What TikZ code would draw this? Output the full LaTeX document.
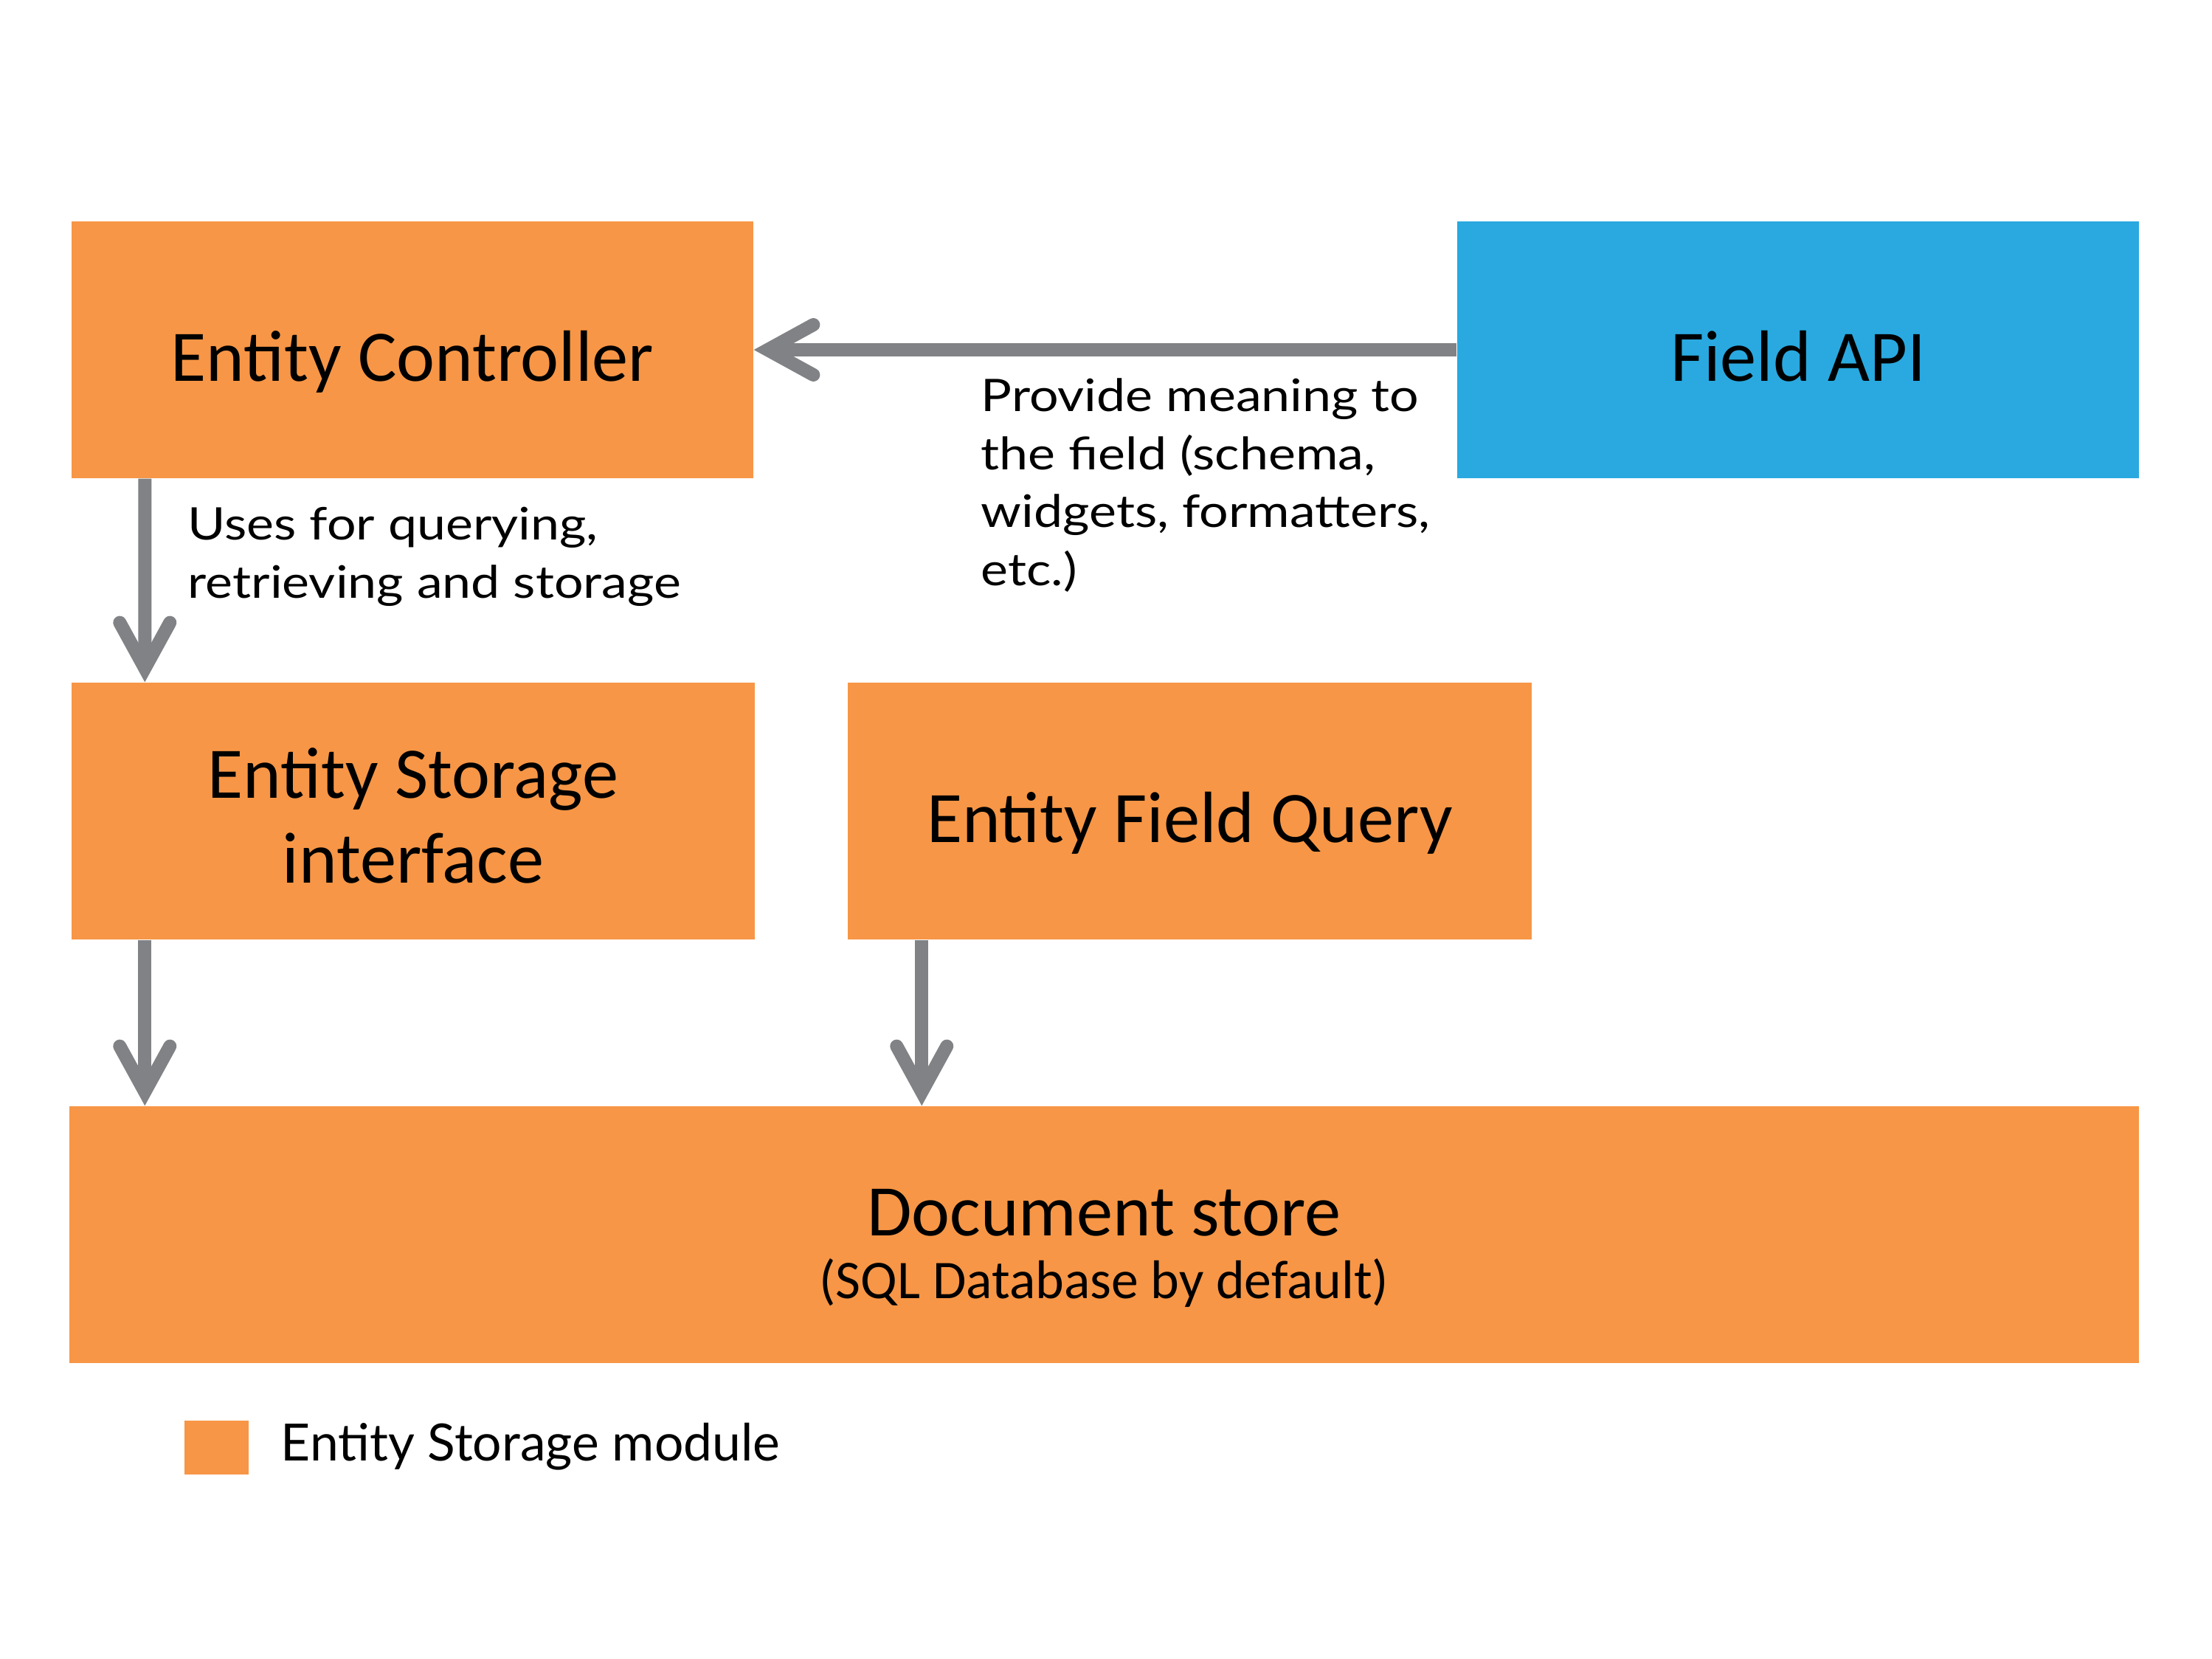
\documentclass[tikz,border=0pt]{standalone}
\usepackage{fontspec}
\setmainfont{Carlito}
\newfontfamily\notefont[FakeStretch=1.15]{Lato}
\newfontfamily\legendfont{Lato}
\usetikzlibrary{arrows.meta,calc}
\definecolor{boxorange}{HTML}{F79646}
\definecolor{boxblue}{HTML}{29A9E0}
\definecolor{arrowgray}{HTML}{808285}
\tikzset{
  block/.style={fill=boxorange, draw=none, inner sep=0pt, minimum height=3.48cm, align=center,
    text depth=0pt, text height=0.84cm, font=\fontsize{28}{32.6}\selectfont},
  apiblock/.style={block, fill=boxblue},
  flow/.style={draw=arrowgray, line width=0.18cm,
    -{Straight Barb[length=0.62cm, width=0.68cm, line cap=round, line join=miter]}},
  note/.style={inner sep=0pt, align=left, anchor=west, font=\notefont\fontsize{17.3}{22.4}\selectfont},
}
\begin{document}
\begin{tikzpicture}
\useasboundingbox (0,0) rectangle (29.98,-22.48);
\node[block, minimum width=9.24cm] (ec) at (5.59,-4.74) {Entity Controller};
\node[apiblock, minimum width=9.24cm] (fapi) at (24.37,-4.74) {Field API};
\node[block, minimum width=9.26cm, text height=1.95cm] (esi) at (5.60,-10.99) {Entity Storage\\interface};
\node[block, minimum width=9.27cm] (efq) at (16.125,-10.99) {Entity Field Query};
\node[block, minimum width=28.05cm, text height=1.72cm] (doc) at (14.965,-16.73)
  {Document store\\[-8.6pt]{\fontsize{21}{25}\selectfont (SQL Database by default)}};
\node[fill=boxorange, inner sep=0pt, minimum width=0.87cm, minimum height=0.73cm] (leg) at (2.935,-19.615) {};
\node[inner sep=0pt, anchor=west, font=\legendfont\fontsize{19.8}{24}\selectfont] (legtext) at (3.80,-19.60) {Entity Storage module};

\node[note] (usesnote) at (2.54,-7.545) {Uses for querying,\\retrieving and storage};
\node[note] (fieldnote) at (13.29,-6.575) {Provide meaning to\\the field (schema,\\widgets, formatters,\\etc.)};

\draw[flow] (fapi.west) -- (ec.east);
\draw[flow] ([xshift=1cm]ec.south west) -- ([xshift=1cm]esi.north west);
\draw[flow] ([xshift=1cm]esi.south west) -- ([xshift=1cm]esi.south west |- doc.north);
\draw[flow] ([xshift=1.01cm]efq.south west) -- ([xshift=1.01cm]efq.south west |- doc.north);
\end{tikzpicture}
\end{document}
